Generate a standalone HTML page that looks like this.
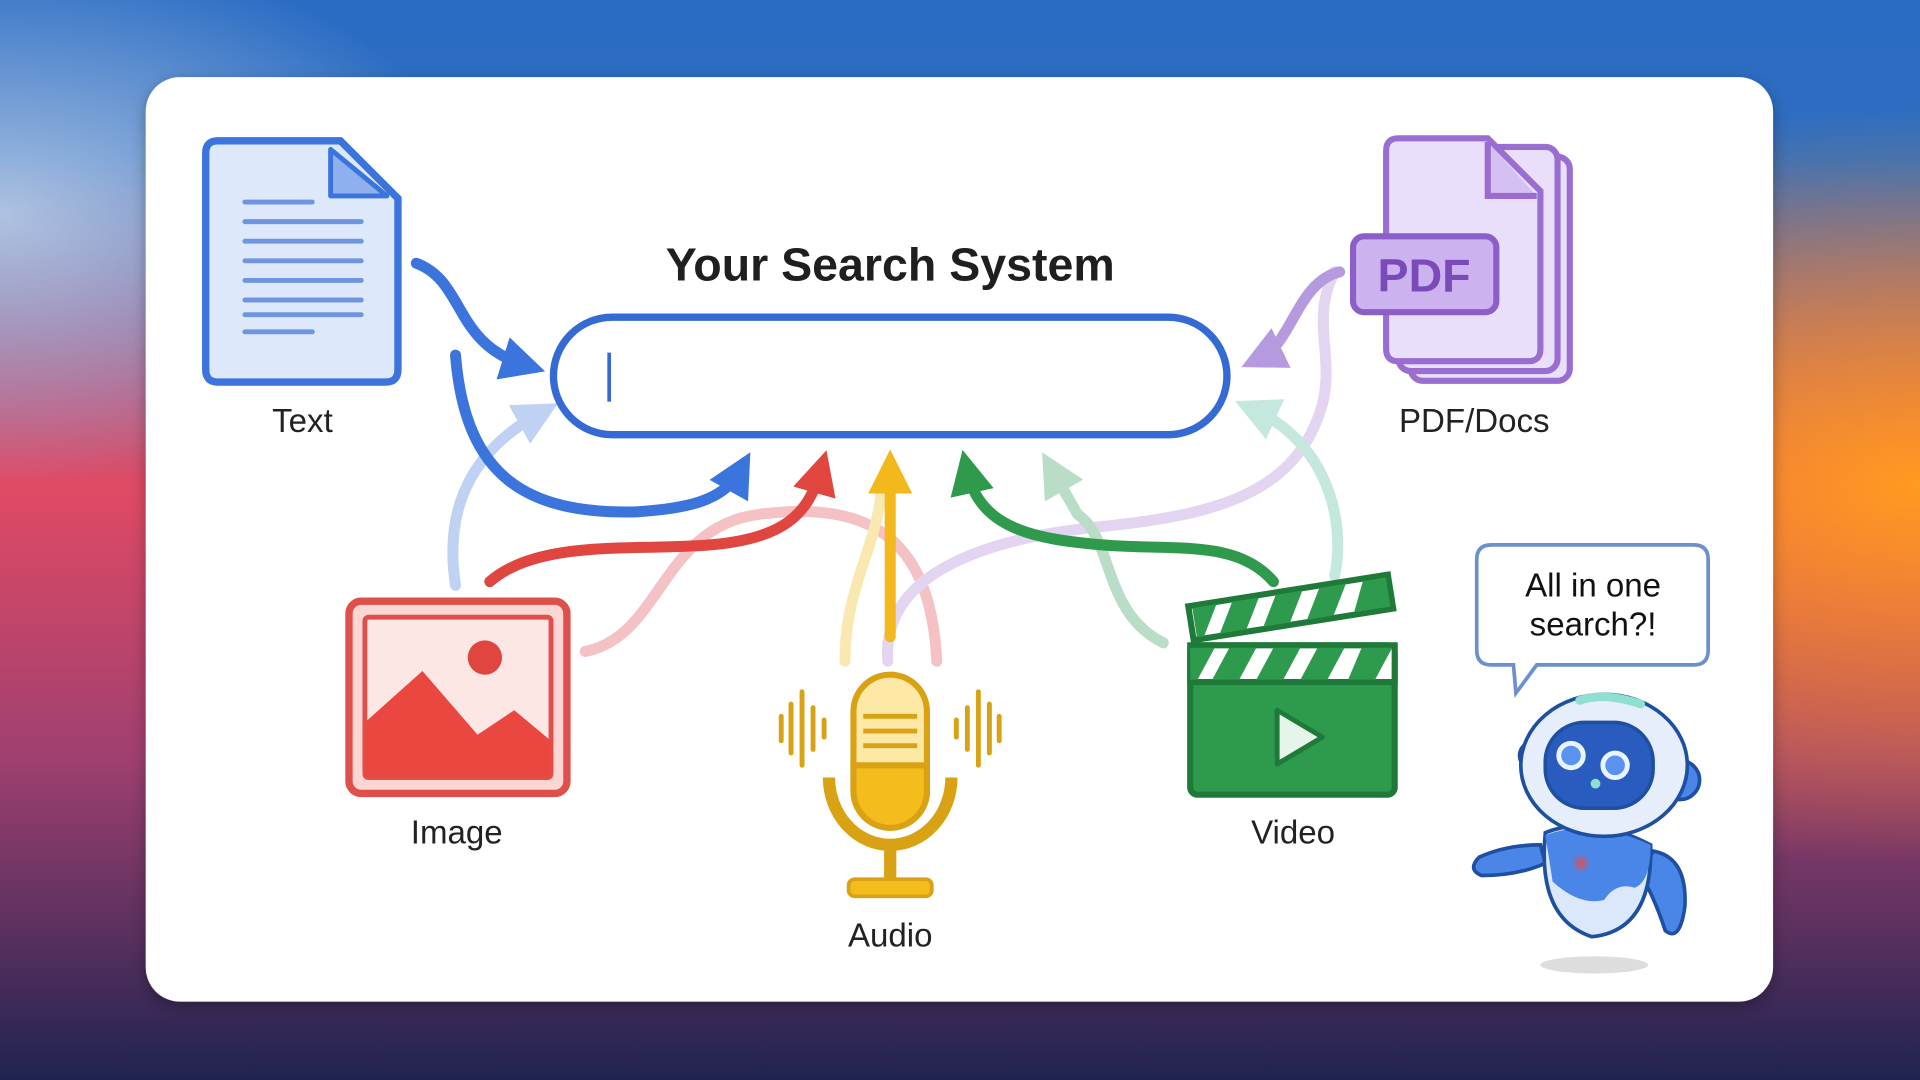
<!DOCTYPE html>
<html><head><meta charset="utf-8"><style>
html,body{margin:0;padding:0;width:1920px;height:1080px;overflow:hidden}
svg{display:block}
text{font-family:"Liberation Sans",sans-serif}
</style></head><body>
<svg width="1920" height="1080" viewBox="0 0 1568 882" xmlns="http://www.w3.org/2000/svg">
<defs>
<linearGradient id="bgv" x1="0" y1="0" x2="0" y2="1">
<stop offset="0" stop-color="#2a6cc4"/><stop offset="0.15" stop-color="#2f6dc0"/><stop offset="0.45" stop-color="#e04a64"/><stop offset="0.7" stop-color="#a04070"/><stop offset="1" stop-color="#1f2350"/>
</linearGradient>
<radialGradient id="og" cx="1" cy="0.45" r="0.35"><stop offset="0" stop-color="#ff9a20" stop-opacity="1"/><stop offset="1" stop-color="#ff9a20" stop-opacity="0"/></radialGradient>
<radialGradient id="lg" cx="0" cy="0.2" r="0.25"><stop offset="0" stop-color="#c8d8ec" stop-opacity="0.8"/><stop offset="1" stop-color="#c8d8ec" stop-opacity="0"/></radialGradient>
<filter id="sh" x="-5%" y="-5%" width="110%" height="110%"><feDropShadow dx="0" dy="4" stdDeviation="6" flood-opacity="0.3"/></filter>
<filter id="bl"><feGaussianBlur stdDeviation="3"/></filter>
<marker id="ah" markerWidth="4" markerHeight="4" refX="2" refY="2" orient="auto" markerUnits="strokeWidth"><path d="M0,0 L4,2 L0,4 Z" fill="context-stroke"/></marker>
</defs>
<rect width="1568" height="882" fill="url(#bgv)"/>
<rect width="1568" height="882" fill="url(#og)"/>
<rect width="1568" height="882" fill="url(#lg)"/>
<rect x="119" y="63" width="1329" height="755" rx="28" fill="#fff" filter="url(#sh)"/>

<!-- arrows (faint) -->
<g fill="none" stroke-width="9" stroke-linecap="round" opacity="0.35">
<path d="M372,478 C360,400 400,360 440,338" stroke="#4a7fe0" marker-end="url(#ah)"/>
<path d="M478,532 C540,520 540,430 620,420 C700,410 760,430 765,540" stroke="#e0505a"/>
<path d="M725,540 C720,470 800,440 900,430 C1000,420 1060,400 1080,330 C1090,290 1070,260 1090,222" stroke="#b08ad8" opacity="1"/>
<path d="M950,525 C900,500 910,440 880,420 L860,385" stroke="#3aa060" marker-end="url(#ah)"/>
<path d="M1090,470 C1100,420 1080,360 1025,335" stroke="#58c0a0" marker-end="url(#ah)"/>
<path d="M690,540 C690,480 715,450 720,400" stroke="#f0c020"/>
</g>
<g fill="none" stroke-width="9" stroke-linecap="round">
<path d="M340,215 C380,230 370,280 428,298" stroke="#3a74dc" marker-end="url(#ah)"/>
<path d="M372,290 C380,390 430,420 520,418 C560,415 590,410 604,385" stroke="#3a74dc" marker-end="url(#ah)"/>
<path d="M400,475 C440,440 520,450 580,445 C640,440 660,420 670,385" stroke="#e0453f" marker-end="url(#ah)"/>
<path d="M727,520 C727,470 727,430 727,385" stroke="#f2b81c" marker-end="url(#ah)"/>
<path d="M1040,475 C1010,440 960,450 900,445 C840,440 800,430 790,385" stroke="#2f9a4c" marker-end="url(#ah)"/>
<path d="M1094,222 C1060,230 1055,280 1030,292" stroke="#b59ae0" marker-end="url(#ah)"/>
</g>

<!-- title & search bar -->
<text x="727" y="229" text-anchor="middle" font-size="38" font-weight="bold" fill="#1f1f1f">Your Search System</text>
<rect x="452" y="259" width="550" height="96" rx="48" fill="#fff" stroke="#3569d4" stroke-width="6"/>
<rect x="496" y="288" width="3" height="40" fill="#3569d4"/>

<!-- Text doc -->
<path d="M178,115 H278 L325,162 V302 Q325,312 315,312 H178 Q168,312 168,302 V125 Q168,115 178,115 Z" fill="#dde8fb" stroke="#3a74dc" stroke-width="6"/>
<path d="M270,122 V160 H316 Z" fill="#8fb0ee" stroke="#3a74dc" stroke-width="4" stroke-linejoin="round"/>
<g stroke="#6f95e0" stroke-width="4" stroke-linecap="round">
<line x1="200" y1="165" x2="255" y2="165"/><line x1="200" y1="181" x2="295" y2="181"/><line x1="200" y1="197" x2="295" y2="197"/><line x1="200" y1="213" x2="295" y2="213"/><line x1="200" y1="229" x2="295" y2="229"/><line x1="200" y1="245" x2="295" y2="245"/><line x1="200" y1="257" x2="295" y2="257"/><line x1="200" y1="271" x2="255" y2="271"/>
</g>
<text x="247" y="353" text-anchor="middle" font-size="27" fill="#222">Text</text>

<!-- PDF -->
<g stroke="#9a6dd0" stroke-width="5" fill="#eadffa">
<rect x="1152" y="128" width="130" height="183" rx="10"/>
<rect x="1142" y="120" width="130" height="183" rx="10"/>
<path d="M1142,113 H1215 L1258,156 V285 Q1258,295 1248,295 H1142 Q1132,295 1132,285 V123 Q1132,113 1142,113 Z"/>
<path d="M1215,116 V160 H1255" fill="#d4c0f2"/>
</g>
<rect x="1105" y="193" width="117" height="62" rx="9" fill="#cdb2f0" stroke="#8c5ec8" stroke-width="5"/>
<text x="1163" y="238" text-anchor="middle" font-size="38" font-weight="bold" fill="#7a4bb8">PDF</text>
<text x="1204" y="353" text-anchor="middle" font-size="27" fill="#222">PDF/Docs</text>

<!-- Image -->
<rect x="285" y="491" width="178" height="157" rx="10" fill="#fbd6d3" stroke="#e0504a" stroke-width="6"/>
<rect x="298" y="504" width="152" height="131" rx="3" fill="#fde7e5" stroke="#e0504a" stroke-width="4"/>
<circle cx="396" cy="537" r="14" fill="#e0453f"/>
<path d="M298,635 V590 L345,548 L390,600 L420,580 L450,605 V635 Z" fill="#e9473f"/>
<text x="373" y="689" text-anchor="middle" font-size="27" fill="#222">Image</text>

<!-- Mic -->
<g stroke="#d9a215" stroke-width="4" stroke-linecap="round">
<line x1="638" y1="585" x2="638" y2="605"/><line x1="646" y1="575" x2="646" y2="615"/><line x1="655" y1="565" x2="655" y2="625"/><line x1="664" y1="578" x2="664" y2="612"/><line x1="673" y1="588" x2="673" y2="602"/>
<line x1="781" y1="588" x2="781" y2="602"/><line x1="790" y1="578" x2="790" y2="612"/><line x1="799" y1="565" x2="799" y2="625"/><line x1="808" y1="575" x2="808" y2="615"/><line x1="816" y1="585" x2="816" y2="605"/>
</g>
<rect x="697" y="551" width="60" height="125" rx="30" fill="#fde8a6" stroke="#d9a215" stroke-width="5"/>
<path d="M697,625 H757 V646 A30,30 0 0 1 697,646 Z" fill="#f4bd1c" stroke="#d9a215" stroke-width="5"/>
<g stroke="#d9a215" stroke-width="4"><line x1="705" y1="585" x2="749" y2="585"/><line x1="705" y1="597" x2="749" y2="597"/><line x1="705" y1="609" x2="749" y2="609"/></g>
<path d="M677,635 A50,55 0 0 0 777,635" fill="none" stroke="#d9a215" stroke-width="10"/>
<line x1="727" y1="690" x2="727" y2="720" stroke="#d9a215" stroke-width="10"/>
<rect x="693" y="718" width="68" height="14" rx="5" fill="#f4bd1c" stroke="#d9a215" stroke-width="3"/>
<text x="727" y="773" text-anchor="middle" font-size="27" fill="#222">Audio</text>

<!-- Video -->
<rect x="972" y="527" width="167" height="122" rx="6" fill="#2e9a4e" stroke="#1f7a3a" stroke-width="5"/>
<rect x="972" y="527" width="167" height="30" fill="#ffffff" stroke="#1f7a3a" stroke-width="5"/>
<g fill="#2e9a4e"><path d="M972,529 h20 l-14,26 h-6z"/><path d="M1004,529 h22 l-14,26 h-22z"/><path d="M1040,529 h22 l-14,26 h-22z"/><path d="M1076,529 h22 l-14,26 h-22z"/><path d="M1112,529 h25 v0 l-14,26 h-22z"/></g>
<g transform="rotate(-9 972 505)">
<rect x="972" y="495" width="165" height="28" fill="#fff" stroke="#1f7a3a" stroke-width="5"/>
<g fill="#2e9a4e"><path d="M975,497 h20 l-14,24 h-6z"/><path d="M1008,497 h22 l-14,24 h-22z"/><path d="M1044,497 h22 l-14,24 h-22z"/><path d="M1080,497 h22 l-14,24 h-22z"/><path d="M1116,497 h19 v24 h-30z"/></g>
</g>
<path d="M1043,580 L1080,602 L1043,624 Z" fill="#e6f5ea" stroke="#1f7a3a" stroke-width="4" stroke-linejoin="round"/>
<text x="1056" y="689" text-anchor="middle" font-size="27" fill="#222">Video</text>

<!-- bubble -->
<path d="M1218,445 H1383 Q1395,445 1395,457 V531 Q1395,543 1383,543 H1255 L1238,566 L1236,543 H1218 Q1206,543 1206,531 V457 Q1206,445 1218,445 Z" fill="#fff" stroke="#6c90cc" stroke-width="3"/>
<text x="1301" y="487" text-anchor="middle" font-size="27" fill="#111">All in one</text>
<text x="1301" y="519" text-anchor="middle" font-size="27" fill="#111">search?!</text>

<!-- robot -->
<ellipse cx="1302" cy="788" rx="44" ry="7" fill="#ddd"/>
<path d="M1258,690 Q1230,690 1208,700 Q1198,710 1210,715 Q1240,715 1262,705 Z" fill="#4a86e8" stroke="#1f4fa0" stroke-width="3"/>
<path d="M1350,695 Q1378,700 1376,740 Q1372,770 1360,760 Q1350,730 1340,715 Z" fill="#4a86e8" stroke="#1f4fa0" stroke-width="3"/>
<path d="M1262,680 Q1255,750 1300,765 Q1350,760 1348,690 Q1300,665 1262,680 Z" fill="#dbe8fb" stroke="#1f4fa0" stroke-width="3"/>
<path d="M1262,682 Q1300,668 1348,690 Q1348,720 1335,725 Q1320,720 1310,735 Q1290,740 1268,720 Z" fill="#4a86e8"/>
<circle cx="1291" cy="705" r="5" fill="#e05050" filter="url(#bl)"/>
<circle cx="1372" cy="637" r="16" fill="#4a86e8" stroke="#1f4fa0" stroke-width="3"/>
<circle cx="1252" cy="617" r="11" fill="#4a86e8" stroke="#1f4fa0" stroke-width="3"/>
<ellipse cx="1310" cy="625" rx="68" ry="58" fill="#e6eefb" stroke="#1f4fa0" stroke-width="3"/>
<path d="M1290,572 Q1310,565 1340,575" fill="none" stroke="#8fe0d0" stroke-width="7" stroke-linecap="round"/>
<rect x="1262" y="590" width="88" height="70" rx="32" fill="#2a5cc0" stroke="#1f4fa0" stroke-width="3"/>
<circle cx="1283" cy="617" r="10" fill="#5a92ee" stroke="#e8f4ff" stroke-width="4"/>
<circle cx="1319" cy="625" r="10" fill="#5a92ee" stroke="#e8f4ff" stroke-width="4"/>
<circle cx="1303" cy="640" r="4" fill="#8fe0d0"/>
</svg>
</body></html>
